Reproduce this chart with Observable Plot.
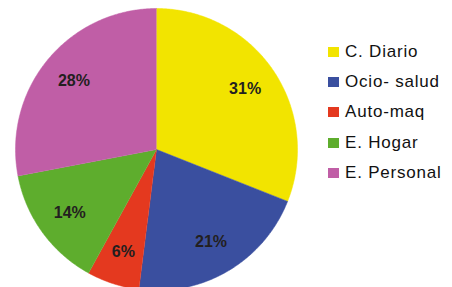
<!DOCTYPE html>
<html><head><meta charset="utf-8">
<script src="https://cdn.jsdelivr.net/npm/d3@7"></script>
<script src="https://cdn.jsdelivr.net/npm/@observablehq/plot@0.6"></script>
<style>
body{margin:0;background:#fff;font-family:"Liberation Sans",Arial,sans-serif;}
#wrap{position:relative;width:452px;height:287px;overflow:hidden;}
#legend{position:absolute;left:328px;top:37px;}
.item{display:flex;align-items:center;height:30.2px;font-size:17px;letter-spacing:0.8px;color:#111;}
.sw{width:11px;height:10px;margin-right:6px;}
</style></head>
<body><div id="wrap"><div id="chart"></div><div id="legend"></div></div>
<script>
const categories = ["C. Diario", "Ocio- salud", "Auto-maq", "E. Hogar", "E. Personal"];
const values = [31, 21, 6, 14, 28];
const labels = ["31%", "21%", "6%", "14%", "28%"];
const colors = ["#f2e400", "#3a4f9f", "#e4391f", "#5ead2d", "#c05ea6"];

const data = categories.map((c, i) => ({category: c, value: values[i], label: labels[i]}));
const arcs = d3.pie().sort(null).value(d => d.value)(data);

const polys = [];
arcs.forEach(a => {
  polys.push({category: a.data.category, x: 0, y: 0});
  const n = Math.max(2, Math.ceil((a.endAngle - a.startAngle) / 0.01));
  for (let k = 0; k <= n; k++) {
    const t = a.startAngle + (a.endAngle - a.startAngle) * k / n;
    polys.push({category: a.data.category, x: Math.sin(t), y: Math.cos(t)});
  }
});
const labelR = 0.76;
const labelPts = arcs.map(a => {
  const t = (a.startAngle + a.endAngle) / 2;
  return {label: a.data.label, x: labelR * Math.sin(t), y: labelR * Math.cos(t)};
});

const cx = 156, cy = 149, r = 141;
const chart = Plot.plot({
  width: 452, height: 287,
  margin: 0,
  x: {domain: [-1, 1], range: [cx - r, cx + r], axis: null},
  y: {domain: [-1, 1], range: [cy + r, cy - r], axis: null},
  color: {domain: categories, range: colors},
  style: {background: "#fff", overflow: "visible"},
  marks: [
    Plot.line(polys, {x: "x", y: "y", z: "category", fill: "category", stroke: "category", strokeWidth: 0.5, curve: "linear"}),
    Plot.text(labelPts, {x: "x", y: "y", text: "label", fontSize: 16, fontWeight: "bold", fill: "#231f20", fontFamily: "Liberation Sans, Arial, sans-serif"})
  ]
});
document.getElementById("chart").appendChild(chart);

const lg = document.getElementById("legend");
categories.forEach((c, i) => {
  const it = document.createElement("div");
  it.className = "item";
  it.innerHTML = `<div class="sw" style="background:${colors[i]}"></div><span>${c}</span>`;
  lg.appendChild(it);
});
</script></body></html>
